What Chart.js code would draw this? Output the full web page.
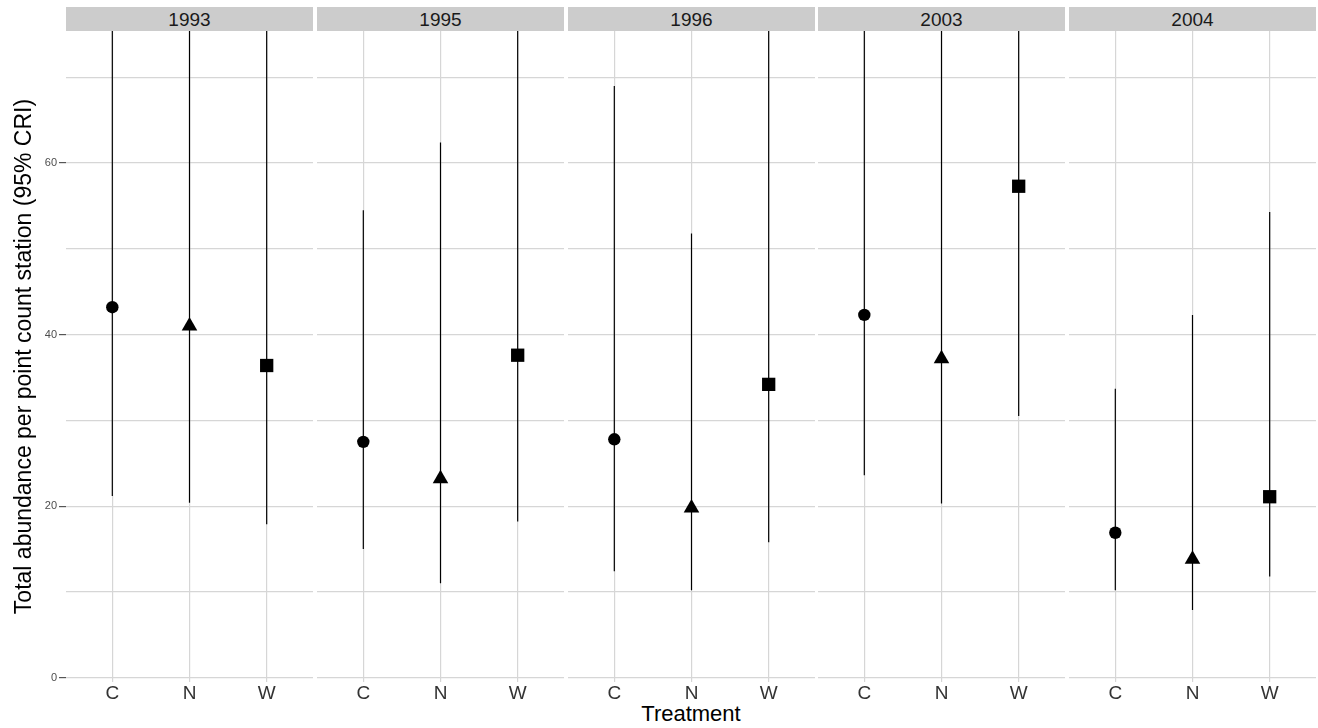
<!DOCTYPE html>
<html>
<head>
<meta charset="utf-8">
<script src="https://cdn.jsdelivr.net/npm/chart.js@4.4.0/dist/chart.umd.min.js"></script>
<style>
  body { margin: 0; background: #fff; width: 1318px; height: 728px; position: relative; overflow: hidden;
         font-family: "Liberation Sans", Arial, sans-serif; }
  .strip { position: absolute; top: 7px; height: 24px; background: #cccccc; color: #1a1a1a;
           font-size: 19px; line-height: 25px; text-align: center; }
  .panel { position: absolute; top: 31px; height: 681px; }
  #xtitle { position: absolute; left: 66px; width: 1250px; top: 702px; text-align: center;
            font-size: 22px; line-height: 24px; color: #000; }
</style>
</head>
<body>
<div id="xtitle">Treatment</div>
<script>
const years = ["1993", "1995", "1996", "2003", "2004"];
const treatments = ["C", "N", "W"];
const yTicks = [0, 10, 20, 30, 40, 50, 60, 70];

// posterior means per treatment, one value per year
const meanC = [43.2, 27.5, 27.8, 42.3, 16.9];
const meanN = [41.0, 23.2, 19.8, 37.2, 13.8];
const meanW = [36.4, 37.6, 34.2, 57.3, 21.1];
// 95% CRI bounds (upper ends above 75 run off the panel)
const lowerC = [21.2, 15.0, 12.4, 23.6, 10.2];
const lowerN = [20.4, 11.0, 10.2, 20.3, 7.9];
const lowerW = [17.9, 18.2, 15.8, 30.5, 11.8];
const upperC = [88, 54.5, 69.0, 82, 33.7];
const upperN = [86, 62.4, 51.8, 80, 42.3];
const upperW = [84, 78, 80, 95, 54.3];

const panelLeft = [66, 317, 568, 818, 1069];
const panelWidth = 247;
const gridColor = "#d6d6d6";
const font = "'Liberation Sans', Arial, sans-serif";

function errorBars(lo, hi) {
  return {
    id: "errorBars",
    beforeDatasetsDraw(chart) {
      const { ctx, chartArea, scales: { x, y } } = chart;
      ctx.save();
      ctx.beginPath();
      ctx.rect(chartArea.left, chartArea.top, chartArea.width, chartArea.height);
      ctx.clip();
      ctx.strokeStyle = "#000";
      ctx.lineWidth = 1.2;
      lo.forEach((v, i) => {
        const px = x.getPixelForValue(i + 1);
        ctx.beginPath();
        ctx.moveTo(px, y.getPixelForValue(v));
        ctx.lineTo(px, y.getPixelForValue(hi[i]));
        ctx.stroke();
      });
      ctx.restore();
    }
  };
}

years.forEach((year, p) => {
  const first = p === 0;
  const left = first ? 0 : panelLeft[p];
  const width = first ? panelLeft[0] + panelWidth : panelWidth;

  const strip = document.createElement("div");
  strip.className = "strip";
  strip.style.left = panelLeft[p] + "px";
  strip.style.width = panelWidth + "px";
  strip.textContent = year;
  document.body.appendChild(strip);

  const box = document.createElement("div");
  box.className = "panel";
  box.style.left = left + "px";
  box.style.width = width + "px";
  const canvas = document.createElement("canvas");
  box.appendChild(canvas);
  document.body.appendChild(box);

  const means = [meanC[p], meanN[p], meanW[p]];
  const lows = [lowerC[p], lowerN[p], lowerW[p]];
  const highs = [upperC[p], upperN[p], upperW[p]];

  new Chart(canvas, {
    type: "scatter",
    data: {
      datasets: [{
        data: means.map((v, i) => ({ x: i + 1, y: v })),
        pointStyle: ["circle", "triangle", "rect"],
        pointRadius: [6.2, 9, 9.4],
        backgroundColor: "#000",
        borderColor: "#000",
        borderWidth: 0
      }]
    },
    plugins: [errorBars(lows, highs)],
    options: {
      responsive: true,
      maintainAspectRatio: false,
      animation: false,
      layout: { padding: 0, autoPadding: false },
      plugins: { legend: { display: false }, tooltip: { enabled: false } },
      scales: {
        x: {
          type: "linear",
          min: 0.4,
          max: 3.6,
          afterBuildTicks: s => { s.ticks = treatments.map((t, i) => ({ value: i + 1 })); },
          afterFit: s => { s.height = 30; s.paddingLeft = 0; s.paddingRight = 0; },
          ticks: {
            callback: v => treatments[v - 1],
            autoSkip: false, maxRotation: 0, padding: 0,
            color: "#333", font: { family: font, size: 19 }
          },
          grid: { color: gridColor, lineWidth: 1.2, drawTicks: false },
          border: { display: false }
        },
        y: {
          min: -0.5,
          max: 75.4,
          afterBuildTicks: s => { s.ticks = yTicks.map(v => ({ value: v })); },
          afterFit: s => { s.width = first ? panelLeft[0] : 0; s.paddingTop = 0; s.paddingBottom = 0; },
          ticks: {
            display: first,
            callback: v => (v % 20 === 0 ? v : ""),
            padding: 2,
            color: "#4d4d4d",
            font: { family: font, size: 11 }
          },
          grid: {
            color: gridColor,
            lineWidth: 1.2,
            drawTicks: first,
            tickLength: 7,
            tickColor: c => (c.tick && c.tick.value % 20 === 0 ? "#555" : "rgba(0,0,0,0)")
          },
          border: { display: false },
          title: {
            display: first,
            text: "Total abundance per point count station (95% CRI)",
            color: "#000",
            font: { family: font, size: 23 },
            padding: { top: 11, bottom: 0 }
          }
        }
      }
    }
  });
});
</script>
</body>
</html>
